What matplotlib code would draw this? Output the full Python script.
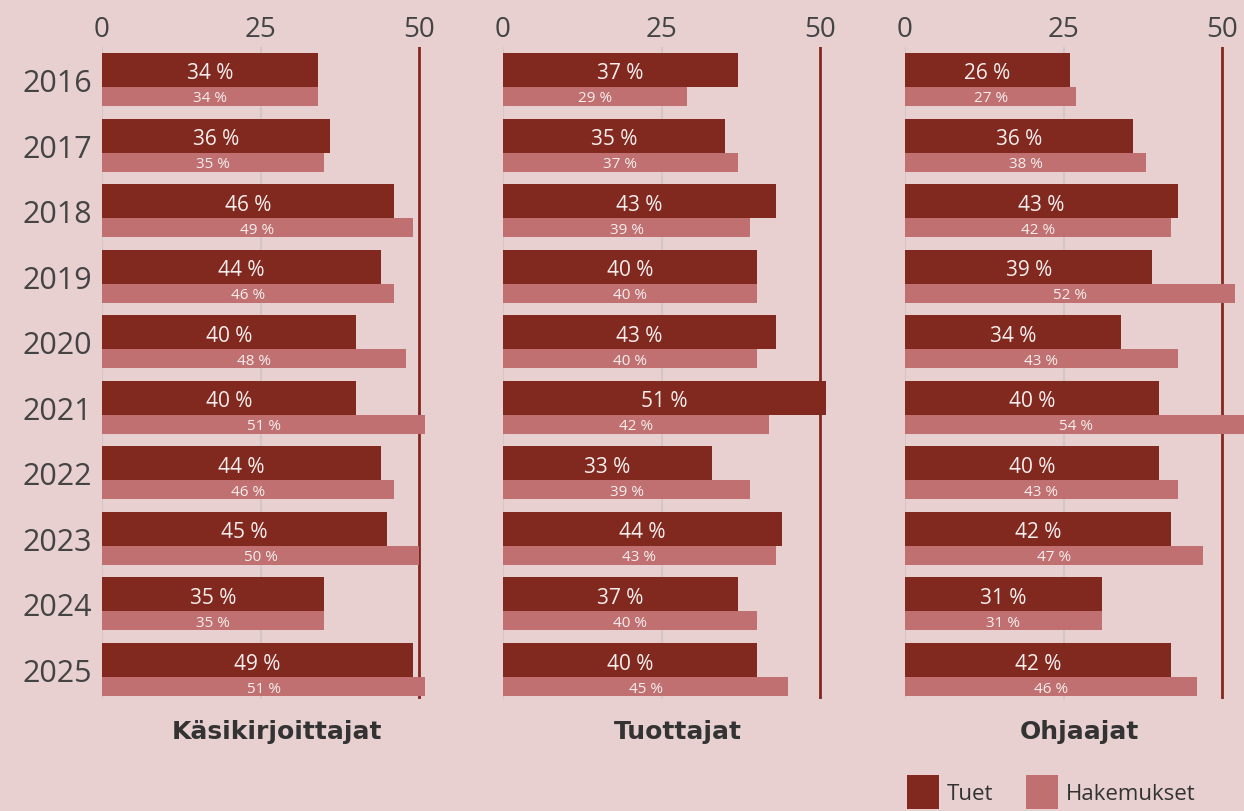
import matplotlib
matplotlib.use("Agg")
import matplotlib.pyplot as plt
from matplotlib.patches import Patch
import numpy as np

# Data
years = ["2016", "2017", "2018", "2019", "2020", "2021", "2022", "2023", "2024", "2025"]
groups = ["Käsikirjoittajat", "Tuottajat", "Ohjaajat"]
series_names = ["Tuet", "Hakemukset"]

kasikirjoittajat_tuet = [34, 36, 46, 44, 40, 40, 44, 45, 35, 49]
kasikirjoittajat_hak = [34, 35, 49, 46, 48, 51, 46, 50, 35, 51]
tuottajat_tuet = [37, 35, 43, 40, 43, 51, 33, 44, 37, 40]
tuottajat_hak = [29, 37, 39, 40, 40, 42, 39, 43, 40, 45]
ohjaajat_tuet = [26, 36, 43, 39, 34, 40, 40, 42, 31, 42]
ohjaajat_hak = [27, 38, 42, 52, 43, 54, 43, 47, 31, 46]

x_ticks = [0, 25, 50]

# Style
BG = "#e8d0d1"
DARK = "#82291f"
LIGHT = "#c07070"
TEXT = "#444444"
GRID = "#d3c6c6"
plt.rcParams["font.family"] = ["Open Sans", "DejaVu Sans"]

W, H = 1244, 812
fig = plt.figure(figsize=(W / 100, H / 100), dpi=100, facecolor=BG)

panel_data = [
    (kasikirjoittajat_tuet, kasikirjoittajat_hak),
    (tuottajat_tuet, tuottajat_hak),
    (ohjaajat_tuet, ohjaajat_hak),
]
panel_left = [102, 503, 905]
ax_top, ax_bottom = 48, 700
row_px = 65.6
dark_h = 34 / row_px
light_h = 19 / row_px
group_h = dark_h + light_h
xmax = 54
px_per_unit = (419 - 102) / 50
ax_w = xmax * px_per_unit
lbl_shift = 3 / row_px  # labels sit a little below bar centre

y = np.arange(len(years))
for i, (title, (tuet, hak)) in enumerate(zip(groups, panel_data)):
    left = panel_left[i]
    ax = fig.add_axes([left / W, (H - ax_bottom) / H, ax_w / W, (ax_bottom - ax_top) / H])
    ax.set_facecolor("none")
    ax.patch.set_alpha(0)

    top = y - group_h / 2
    ax.barh(top + dark_h / 2, tuet, height=dark_h, color=DARK, zorder=3)
    ax.barh(top + dark_h + light_h / 2, hak, height=light_h, color=LIGHT, zorder=3)

    for yy, v in zip(top + dark_h / 2, tuet):
        ax.text(v / 2, yy + lbl_shift, f"{v} %", ha="center", va="center",
                color="#f6eeee", fontsize=15, zorder=4)
    for yy, v in zip(top + dark_h + light_h / 2, hak):
        ax.text(v / 2, yy + lbl_shift / 2, f"{v} %", ha="center", va="center",
                color="#f6eeee", fontsize=11, zorder=4)

    ax.axvline(0, color=GRID, lw=1.5, zorder=1)
    ax.axvline(25, color=GRID, lw=1.5, zorder=1)
    ax.axvline(50, color=DARK, lw=2, zorder=2)

    ax.set_xlim(0, xmax)
    ax.set_ylim(9 + group_h / 2 + 3 / row_px, -group_h / 2 - 6 / row_px)
    ax.xaxis.tick_top()
    ax.set_xticks(x_ticks)
    ax.set_xticklabels([str(t) for t in x_ticks])
    ax.tick_params(axis="x", length=0, pad=3, labelsize=20, labelcolor=TEXT)
    if i == 0:
        ax.set_yticks(y)
        ax.set_yticklabels(years)
        ax.tick_params(axis="y", length=0, pad=7, labelsize=22, labelcolor=TEXT)
    else:
        ax.set_yticks([])
    for s in ax.spines.values():
        s.set_visible(False)

    cx = (left + (419 - 102) / 2 + 16) / W
    fig.text(cx, 1 - 732 / H, title, ha="center", va="center",
             fontsize=18, fontweight="bold", color="#333333",
             family=["DejaVu Sans"])

handles = [Patch(facecolor=DARK, edgecolor="none"), Patch(facecolor=LIGHT, edgecolor="none")]
fig.legend(handles, series_names, loc="upper left", bbox_to_anchor=(907 / W, 1 - 776 / H),
           ncol=2, frameon=False, fontsize=16, handlelength=1.44, handleheight=2.0,
           handletextpad=0.36, columnspacing=1.44, borderpad=0, borderaxespad=0,
           labelcolor="#333333")

fig.savefig("out.png", dpi=100, facecolor=BG)
